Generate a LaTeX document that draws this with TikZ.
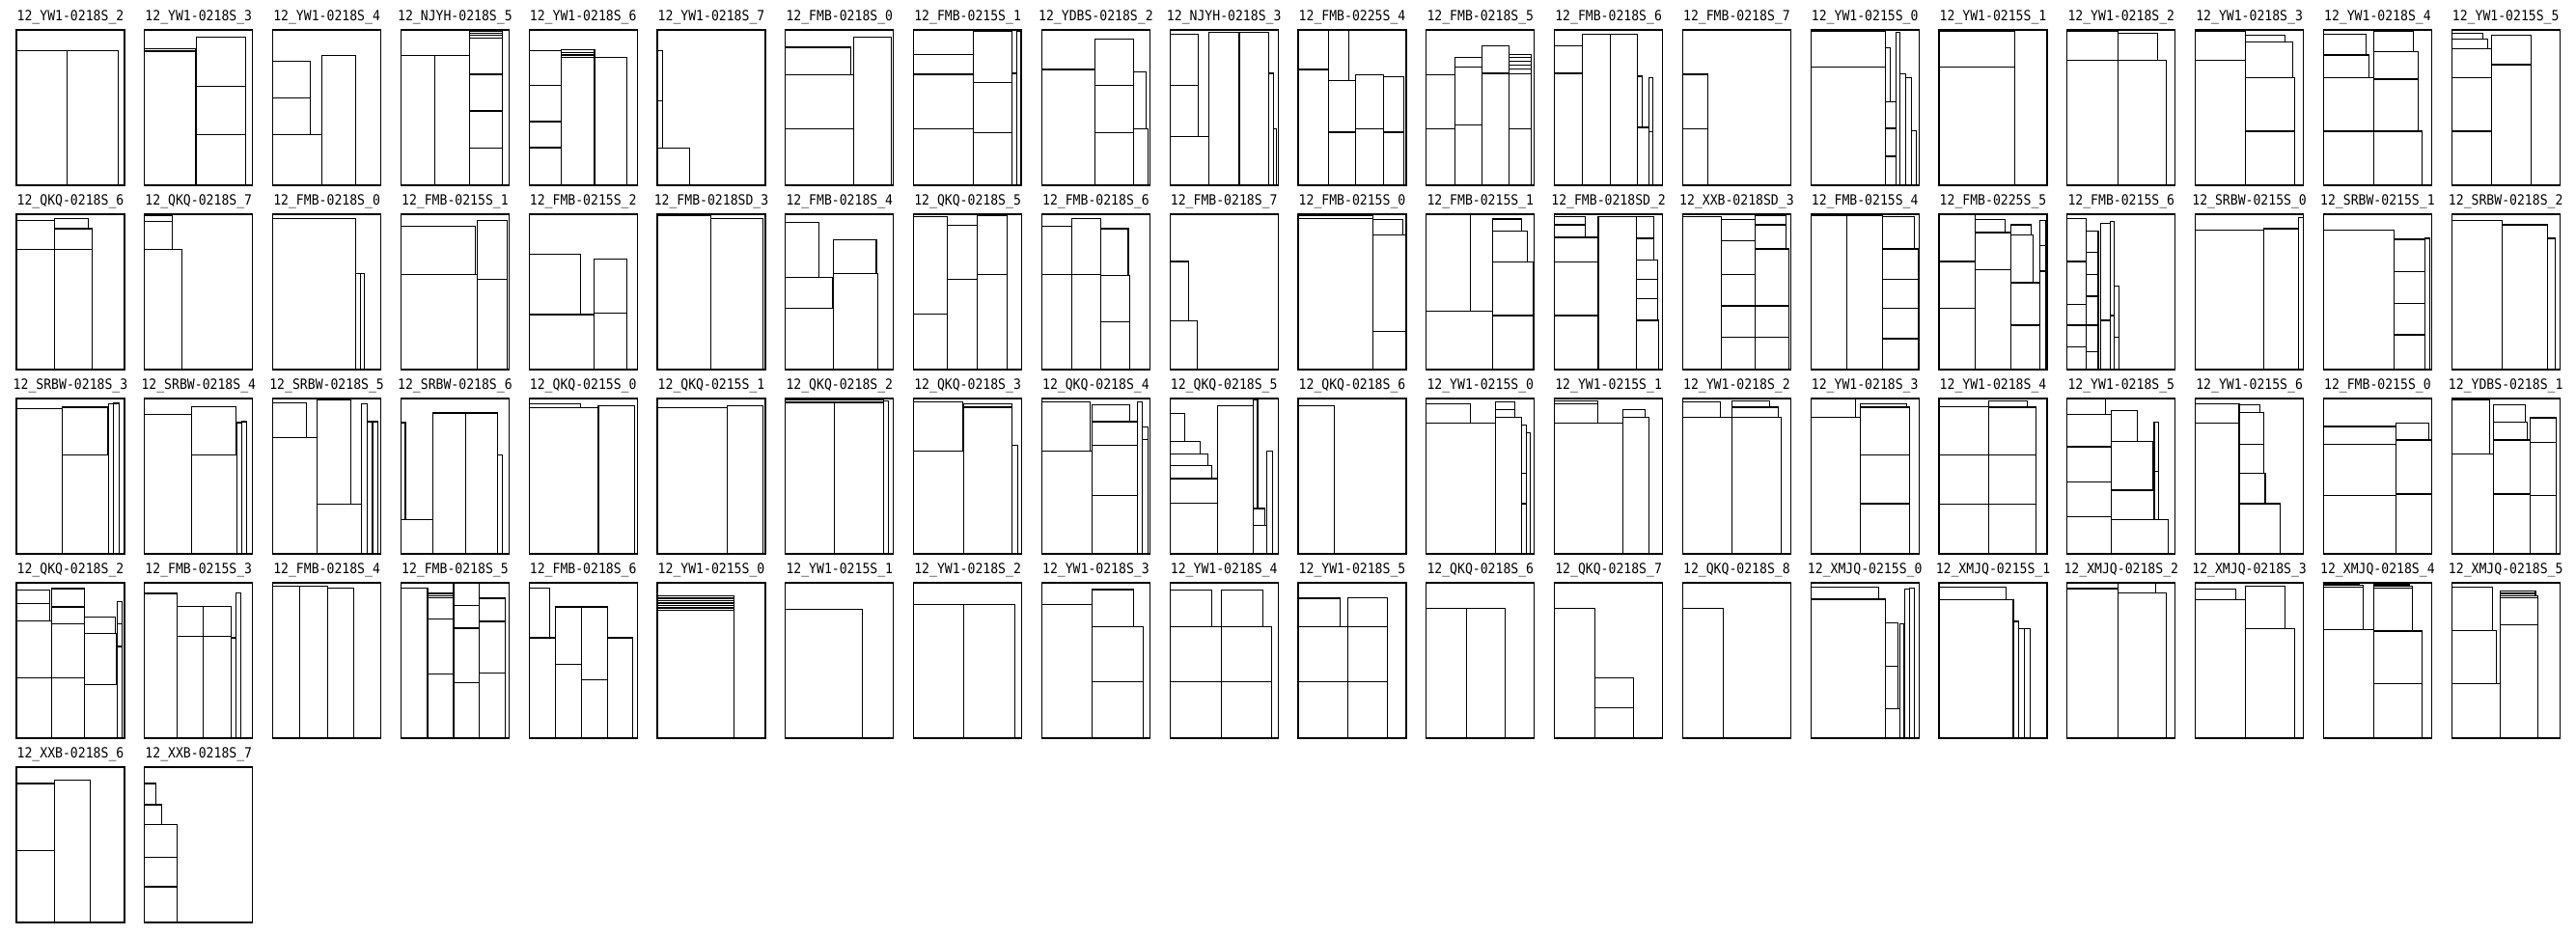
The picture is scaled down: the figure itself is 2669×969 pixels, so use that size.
\documentclass[tikz,border=0pt]{standalone}
\usepackage{fontspec}
\usepackage{tikz}
\newfontfamily\monotit[FakeStretch=0.9]{DejaVu Sans Mono}
\tikzset{
  rotulo/.style={font=\monotit\fontsize{8.3}{10}\selectfont, anchor=base, inner sep=0pt},
  marco/.style={draw=black, line width=0.7pt},
  pieza/.style={draw=black, line width=0.6pt},
}
\newcommand{\tablero}[4]{%
  \begin{scope}[shift={({17+132.8*#1},{31+191*#2})}, xscale=0.5744, yscale=0.3333]
    \node[rotulo] (t#1-#2) at (97.5,-28.5) {#3};
    \draw[marco] (0,0) rectangle (195,483);
    \foreach \xa/\ya/\xb/\yb in {#4}
      \draw[pieza] (\xa,\ya) rectangle (\xb,\yb);
  \end{scope}}

\begin{document}
\begin{tikzpicture}[x=0.02cm, y=-0.02cm]
  \fill[white] (0,0) rectangle (2669,969);
  \useasboundingbox (0,0) rectangle (2669,969);
  % fila 1
  \tablero{0}{0}{12\_YW1-0218S\_2}{0/65/92/483, 92/65/183/483}
  \tablero{1}{0}{12\_YW1-0218S\_3}{0/59/91/66, 0/66/91/483, 93/23/183/176, 93/176/183/326, 93/326/183/483}
  \tablero{2}{0}{12\_YW1-0218S\_4}{0/98/68/211, 0/211/68/326, 0/326/89/483, 89/80/149/483}
  \tablero{3}{0}{12\_NJYH-0218S\_5}{0/80/61/483, 61/80/123/483, 123/4/183/10, 123/10/183/17, 123/17/183/25, 123/25/183/138, 123/138/183/252, 123/252/183/367, 123/367/183/483}
  \tablero{4}{0}{12\_YW1-0218S\_6}{0/65/58/173, 0/173/58/285, 0/285/58/366, 0/366/58/483, 58/62/118/70, 58/70/118/78, 58/78/118/86, 58/86/118/483, 118/86/176/483}
  \tablero{5}{0}{12\_YW1-0218S\_7}{0/65/10/220, 0/220/10/368, 0/368/59/483}
  \tablero{6}{0}{12\_FMB-0218S\_0}{0/54/118/140, 0/140/123/308, 0/308/123/483, 123/23/191/483}
  \tablero{7}{0}{12\_FMB-0215S\_1}{0/77/108/138, 0/138/108/308, 0/308/108/483, 108/3/178/163, 108/163/178/320, 108/320/178/483, 178/135/186/483, 186/5/193/483}
  \tablero{8}{0}{12\_YDBS-0218S\_2}{0/123/96/483, 96/29/166/173, 96/173/166/320, 96/320/166/483, 166/131/188/308, 166/308/191/483}
  \tablero{9}{0}{12\_NJYH-0218S\_3}{0/13/51/173, 0/173/51/332, 0/332/70/483, 70/8/125/483, 125/8/178/483, 178/135/187/483, 187/308/192/483}
  \tablero{10}{0}{12\_FMB-0225S\_4}{0/123/54/483, 54/0/92/158, 54/158/104/318, 54/318/104/483, 104/140/154/308, 104/308/154/483, 154/146/191/318, 154/318/191/483}
  \tablero{11}{0}{12\_FMB-0218S\_5}{0/140/52/308, 0/308/52/483, 52/86/100/116, 52/116/100/296, 52/296/100/483, 100/50/149/135, 100/135/149/483, 149/76/189/86, 149/86/189/98, 149/98/189/110, 149/110/189/122, 149/122/189/137, 149/137/189/308, 149/308/189/483}
  \tablero{12}{0}{12\_FMB-0218S\_6}{0/50/51/135, 0/135/51/483, 51/13/101/483, 101/13/150/483, 150/144/158/303, 150/303/170/483, 170/148/178/316, 170/316/178/483}
  \tablero{13}{0}{12\_FMB-0218S\_7}{0/138/46/308, 0/308/46/483}
  \tablero{14}{0}{12\_YW1-0215S\_0}{0/5/135/116, 0/116/135/483, 135/56/144/223, 135/223/153/306, 135/306/153/393, 135/393/153/483, 153/8/161/483, 161/136/171/483, 171/148/181/483, 181/314/191/483}
  \tablero{15}{0}{12\_YW1-0215S\_1}{0/5/136/116, 0/116/136/483}
  \tablero{16}{0}{12\_YW1-0218S\_2}{0/5/92/95, 92/11/163/95, 0/95/92/483, 92/95/179/483}
  \tablero{17}{0}{12\_YW1-0218S\_3}{0/5/90/95, 0/95/90/483, 90/16/161/38, 90/38/176/148, 90/148/179/315, 90/315/179/483}
  \tablero{18}{0}{12\_YW1-0218S\_4}{0/13/77/78, 0/78/82/148, 0/148/90/315, 0/315/90/483, 90/5/162/68, 90/68/170/153, 90/153/170/315, 90/315/178/483}
  \tablero{19}{0}{12\_YW1-0215S\_5}{0/11/56/28, 0/28/65/58, 0/58/72/148, 0/148/72/315, 0/315/72/483, 72/16/143/108, 72/108/143/483}
  % fila 2
  \tablero{0}{1}{12\_QKQ-0218S\_6}{0/20/68/110, 68/13/130/45, 68/45/136/110, 0/110/68/483, 68/110/136/483}
  \tablero{1}{1}{12\_QKQ-0218S\_7}{0/5/50/23, 0/23/50/110, 0/110/67/483}
  \tablero{2}{1}{12\_FMB-0218S\_0}{0/13/150/483, 150/185/158/483, 158/185/166/483}
  \tablero{3}{1}{12\_FMB-0215S\_1}{0/38/135/187, 0/187/138/483, 138/20/191/203, 138/203/191/483}
  \tablero{4}{1}{12\_FMB-0215S\_2}{0/125/92/312, 0/312/117/483, 117/140/177/308, 117/308/177/483}
  \tablero{5}{1}{12\_FMB-0218SD\_3}{0/3/96/483, 96/13/190/483}
  \tablero{6}{1}{12\_FMB-0218S\_4}{0/25/61/197, 0/197/84/293, 0/293/86/483, 86/80/164/185, 86/185/167/483}
  \tablero{7}{1}{12\_QKQ-0218S\_5}{0/8/60/310, 0/310/60/483, 60/35/115/203, 60/203/115/483, 115/3/169/187, 115/187/169/483}
  \tablero{8}{1}{12\_FMB-0218S\_6}{0/38/54/187, 0/187/54/483, 54/13/107/187, 54/187/107/483, 107/45/156/190, 107/190/158/335, 107/335/158/483}
  \tablero{9}{1}{12\_FMB-0218S\_7}{0/147/33/332, 0/332/50/483}
  \tablero{10}{1}{12\_FMB-0215S\_0}{0/3/135/13, 0/13/135/483, 135/17/189/65, 135/65/194/365, 135/365/194/483}
  \tablero{11}{1}{12\_FMB-0215S\_1}{0/2/80/302, 0/302/120/483, 120/15/172/53, 120/53/182/148, 120/148/193/315, 120/315/193/483}
  \tablero{12}{1}{12\_FMB-0218SD\_2}{0/8/56/33, 0/33/56/72, 0/72/79/148, 0/148/79/315, 0/315/79/483, 79/8/148/483, 148/8/179/75, 148/75/179/142, 148/142/186/202, 148/202/186/263, 148/263/186/330, 148/330/188/483}
  \tablero{13}{1}{12\_XXB-0218SD\_3}{0/8/70/483, 70/17/130/83, 70/83/130/188, 70/188/130/285, 70/285/130/383, 70/383/130/483, 130/5/186/33, 130/33/186/108, 130/108/191/285, 130/285/191/383, 130/383/191/483}
  \tablero{14}{1}{12\_FMB-0215S\_4}{0/0/130/5, 0/5/65/483, 65/5/130/483, 130/8/187/108, 130/108/193/202, 130/202/193/293, 130/293/193/387, 130/387/193/483}
  \tablero{15}{1}{12\_FMB-0225S\_5}{0/2/66/147, 0/147/66/293, 0/293/66/483, 66/17/119/57, 66/57/129/172, 66/172/129/483, 129/33/167/65, 129/65/170/213, 129/213/182/345, 129/345/182/483, 182/20/192/98, 182/98/192/177, 182/177/192/483}
  \tablero{16}{1}{12\_FMB-0215S\_6}{0/13/35/147, 0/147/35/280, 0/280/35/345, 0/345/35/413, 0/413/35/483, 35/53/56/118, 35/118/56/188, 35/188/56/255, 35/255/56/345, 35/345/56/428, 35/428/56/483, 60/28/77/330, 60/330/77/483, 77/23/85/315, 77/315/85/483, 85/223/93/383, 85/383/93/483}
  \tablero{17}{1}{12\_SRBW-0215S\_0}{0/50/124/483, 124/45/186/483, 186/10/194/483}
  \tablero{18}{1}{12\_SRBW-0215S\_1}{0/50/127/483, 127/78/183/178, 127/178/183/278, 127/278/183/375, 127/375/183/483, 183/75/192/483}
  \tablero{19}{1}{12\_SRBW-0218S\_2}{0/20/91/483, 91/33/173/483, 173/75/186/483}
  % fila 3
  \tablero{0}{2}{12\_SRBW-0218S\_3}{0/32/83/483, 83/27/165/175, 83/175/167/483, 167/17/175/483, 175/15/185/483}
  \tablero{1}{2}{12\_SRBW-0218S\_4}{0/50/84/483, 84/25/165/175, 84/175/167/483, 167/75/175/483, 175/72/184/483}
  \tablero{2}{2}{12\_SRBW-0218S\_5}{0/14/61/122, 0/122/80/483, 80/5/141/329, 80/329/160/483, 160/17/171/483, 171/72/180/483, 180/72/189/483}
  \tablero{3}{2}{12\_SRBW-0218S\_6}{0/75/8/377, 0/377/58/483, 58/45/116/483, 116/45/175/483, 175/175/183/483}
  \tablero{4}{2}{12\_QKQ-0215S\_0}{0/17/92/29, 0/29/125/483, 125/22/190/483}
  \tablero{5}{2}{12\_QKQ-0215S\_1}{0/29/126/483, 126/22/190/483}
  \tablero{6}{2}{12\_QKQ-0218S\_2}{0/5/177/12, 0/12/88/483, 88/12/177/483, 177/7/186/483}
  \tablero{7}{2}{12\_QKQ-0218S\_3}{0/10/88/164, 0/164/90/483, 90/17/178/27, 90/27/178/483, 178/145/187/483}
  \tablero{8}{2}{12\_QKQ-0218S\_4}{0/10/88/164, 0/164/90/483, 90/20/158/72, 90/72/173/145, 90/145/173/302, 90/302/173/483, 173/10/182/483, 182/89/191/127, 182/127/191/483}
  \tablero{9}{2}{12\_QKQ-0218S\_5}{0/47/27/134, 0/134/54/172, 0/172/68/209, 0/209/75/249, 0/249/85/325, 0/325/85/483, 85/22/150/483, 150/5/158/342, 150/342/171/394, 150/394/175/483, 175/164/185/483}
  \tablero{10}{2}{12\_QKQ-0218S\_6}{0/22/66/483}
  \tablero{11}{2}{12\_YW1-0215S\_0}{0/17/79/77, 0/77/124/483, 124/10/160/34, 124/34/160/59, 124/59/172/483, 172/82/180/232, 172/232/180/327, 172/327/180/483, 180/107/187/483}
  \tablero{12}{2}{12\_YW1-0215S\_1}{0/7/78/17, 0/17/78/77, 0/77/124/483, 124/34/163/59, 124/59/171/483}
  \tablero{13}{2}{12\_YW1-0218S\_2}{0/10/68/59, 0/59/89/483, 89/7/156/27, 89/27/172/59, 89/59/177/483}
  \tablero{14}{2}{12\_YW1-0218S\_3}{0/2/80/59, 0/59/90/483, 90/17/172/27, 90/27/178/175, 90/175/178/327, 90/327/178/483}
  \tablero{15}{2}{12\_YW1-0218S\_4}{0/25/90/175, 0/175/90/329, 0/329/90/483, 90/7/159/27, 90/27/175/175, 90/175/175/329, 90/329/175/483}
  \tablero{16}{2}{12\_YW1-0218S\_5}{0/2/69/50, 0/50/79/150, 0/150/79/259, 0/259/79/367, 0/367/79/483, 79/37/127/134, 79/134/155/285, 79/285/157/377, 79/377/182/483, 157/74/165/227, 157/227/165/377}
  \tablero{17}{2}{12\_YW1-0215S\_6}{0/17/79/77, 0/77/79/483, 79/20/117/44, 79/44/124/142, 79/142/124/232, 79/232/126/327, 79/327/153/483}
  \tablero{18}{2}{12\_FMB-0215S\_0}{0/87/130/142, 0/142/130/302, 0/302/130/483, 130/77/190/129, 130/129/195/297, 130/297/195/483}
  \tablero{19}{2}{12\_YDBS-0218S\_1}{0/5/68/172, 0/172/76/483, 76/20/133/74, 76/74/136/129, 76/129/141/297, 76/297/141/483, 141/60/188/137, 141/137/188/302, 141/302/188/483}
  % fila 4
  \tablero{0}{3}{12\_QKQ-0218S\_2}{0/23/60/65, 0/65/60/118, 0/118/63/295, 0/295/63/483, 63/18/122/75, 63/75/122/128, 63/128/122/295, 63/295/122/483, 122/106/178/158, 122/158/180/316, 122/316/182/483, 182/58/190/128, 182/128/190/198, 182/198/190/483}
  \tablero{1}{3}{12\_FMB-0215S\_3}{0/33/58/483, 58/73/106/166, 58/166/106/483, 106/73/156/166, 106/166/156/483, 156/171/165/483, 165/31/173/483}
  \tablero{2}{3}{12\_FMB-0218S\_4}{0/10/49/483, 49/10/99/483, 99/16/146/483}
  \tablero{3}{3}{12\_FMB-0218S\_5}{0/16/48/483, 48/33/95/40, 48/40/95/46, 48/46/95/113, 48/113/95/283, 48/283/95/483, 95/1/141/70, 95/70/141/141, 95/141/141/310, 95/310/141/483, 141/48/188/120, 141/120/188/281, 141/281/188/483}
  \tablero{4}{3}{12\_FMB-0218S\_6}{0/16/37/171, 0/171/47/483, 47/75/94/253, 47/253/94/483, 94/75/141/301, 94/301/141/483, 141/171/187/483}
  \tablero{5}{3}{12\_YW1-0215S\_0}{0/41/138/48, 0/48/138/55, 0/55/138/63, 0/63/138/70, 0/70/138/78, 0/78/138/86, 0/86/138/483}
  \tablero{6}{3}{12\_YW1-0215S\_1}{0/83/139/483}
  \tablero{7}{3}{12\_YW1-0218S\_2}{0/68/91/483, 91/68/183/483}
  \tablero{8}{3}{12\_YW1-0218S\_3}{0/68/91/483, 91/21/166/136, 91/136/183/308, 91/308/183/483}
  \tablero{9}{3}{12\_YW1-0218S\_4}{0/23/75/136, 0/136/92/308, 0/308/92/483, 92/23/167/136, 92/136/183/308, 92/308/183/483}
  \tablero{10}{3}{12\_YW1-0218S\_5}{0/48/76/136, 0/136/89/308, 0/308/89/483, 89/46/161/136, 89/136/161/308, 89/308/161/483}
  \tablero{11}{3}{12\_QKQ-0218S\_6}{0/80/72/483, 72/80/142/483}
  \tablero{12}{3}{12\_QKQ-0218S\_7}{0/80/73/483, 73/295/143/388, 73/388/143/483}
  \tablero{13}{3}{12\_QKQ-0218S\_8}{0/80/73/483}
  \tablero{14}{3}{12\_XMJQ-0215S\_0}{0/13/123/51, 0/51/135/483, 135/125/157/260, 135/260/157/391, 135/391/160/483, 160/128/168/483, 170/20/178/483, 178/16/187/483}
  \tablero{15}{3}{12\_XMJQ-0215S\_1}{0/13/121/53, 0/53/134/483, 134/120/144/483, 144/143/154/483, 154/143/164/483}
  \tablero{16}{3}{12\_XMJQ-0218S\_2}{0/18/92/483, 92/1/160/31, 92/31/179/483}
  \tablero{17}{3}{12\_XMJQ-0218S\_3}{0/20/73/53, 0/53/91/483, 91/10/161/143, 91/143/179/483}
  \tablero{18}{3}{12\_XMJQ-0218S\_4}{0/3/65/8, 0/8/72/13, 0/13/72/145, 0/145/90/483, 90/6/155/11, 90/11/160/16, 90/16/160/150, 90/150/178/313, 90/313/178/483}
  \tablero{19}{3}{12\_XMJQ-0218S\_5}{0/13/73/148, 0/148/81/313, 0/313/88/483, 88/26/151/33, 88/33/151/40, 88/40/156/46, 88/46/156/130, 88/130/156/483}
  % fila 5
  \tablero{0}{4}{12\_XXB-0218S\_6}{0/51/68/260, 0/260/68/483, 68/40/133/483}
  \tablero{1}{4}{12\_XXB-0218S\_7}{0/51/21/117, 0/117/30/178, 0/178/59/280, 0/280/59/372, 0/372/59/483}
\end{tikzpicture}
\end{document}
